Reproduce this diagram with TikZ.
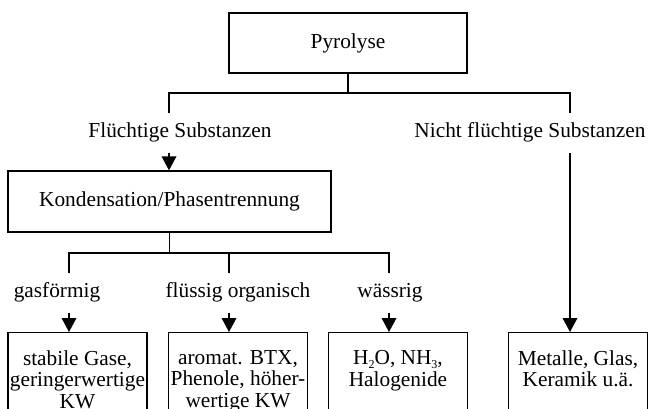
\documentclass[tikz,border=0pt]{standalone}
\usepackage{fontspec}
\setmainfont{Liberation Serif}
\usetikzlibrary{arrows.meta,positioning}
\newcommand{\sbs}[1]{\raisebox{-0.35ex}{\fontsize{9}{9}\selectfont #1}}

\begin{document}
\begin{tikzpicture}[x=0.75pt,y=-0.75pt,font=\fontsize{16}{16}\selectfont,
  box/.style={draw,line width=1pt,inner sep=0pt},
  lbl/.style={inner xsep=0pt,inner ysep=7.3pt,text height=11.2pt,text depth=4.1pt},
  outbox/.style={draw,line width=1pt,anchor=north,minimum width=104.25pt,minimum height=75pt},
  boxtxt/.style={align=center,inner sep=0pt},
  arr/.style={-{Triangle[length=10.5pt,width=11pt]},line width=1pt}]
\useasboundingbox (0,0) rectangle (648,408);
\clip (0,0) rectangle (648,408);
% top level
\node[box,minimum width=178.5pt,minimum height=45pt] (pyro) at (348,43) {Pyrolyse};
\node[lbl] (fluecht) at (180,133) {Flüchtige Substanzen};
\node[lbl] (nfluecht) at (530,133) {Nicht flüchtige Substanzen};
\coordinate (fl) at (169,93);
\coordinate (nf) at (570,93);
\draw[line width=1pt] (pyro.south) -- (pyro.south |- fl);
\draw[line width=1pt] (fl |- fluecht.north) -- (fl) -- (nf) -- (nf |- nfluecht.north);
% condensation
\node[box,minimum width=242.25pt,minimum height=45.75pt] (kond) at (169.5,201.5) {Kondensation/Phasentrennung};
\draw[arr] (fl |- fluecht.south) -- (fl |- kond.north);
\node[lbl] (gas) at (57,293) {gasförmig};
\node[lbl] (org) at (238,293) {flüssig organisch};
\node[lbl] (wass) at (390,293) {wässrig};
\coordinate (g) at (69,253);
\coordinate (o) at (229,253);
\coordinate (w) at (389,253);
\draw[line width=1pt] (kond.south) -- (kond.south |- g);
\draw[line width=1pt] (g |- gas.north) -- (g) -- (w) -- (w |- wass.north);
\draw[line width=1pt] (o) -- (o |- org.north);
% products
\node[outbox] (gasbox) at (77.5,332) {};
\node[outbox] (orgbox) at (238,332) {};
\node[outbox] (wassbox) at (398,332) {};
\node[outbox] (metbox) at (578,332) {};
\node[boxtxt,below=13.8pt of gasbox.north] (gastxt) {stabile Gase,\\geringerwertige\\KW};
\node[boxtxt,below=13.8pt of orgbox.north] (orgtxt) {aromat. BTX,\\Phenole, höher-\\wertige KW};
\node[boxtxt,below=13.8pt of wassbox.north] (wasstxt) {H\sbs{2}O, NH\sbs{3},\\Halogenide};
\node[boxtxt,below=13.8pt of metbox.north] (mettxt) {Metalle, Glas,\\Keramik u.ä.};
\foreach \c/\l/\b in {g/gas/gasbox,o/org/orgbox,w/wass/wassbox}
  {\draw[arr] (\c |- \l.south) -- (\c |- \b.north);}
\draw[arr] (nf |- nfluecht.south) -- (nf |- metbox.north);
\end{tikzpicture}
\end{document}
